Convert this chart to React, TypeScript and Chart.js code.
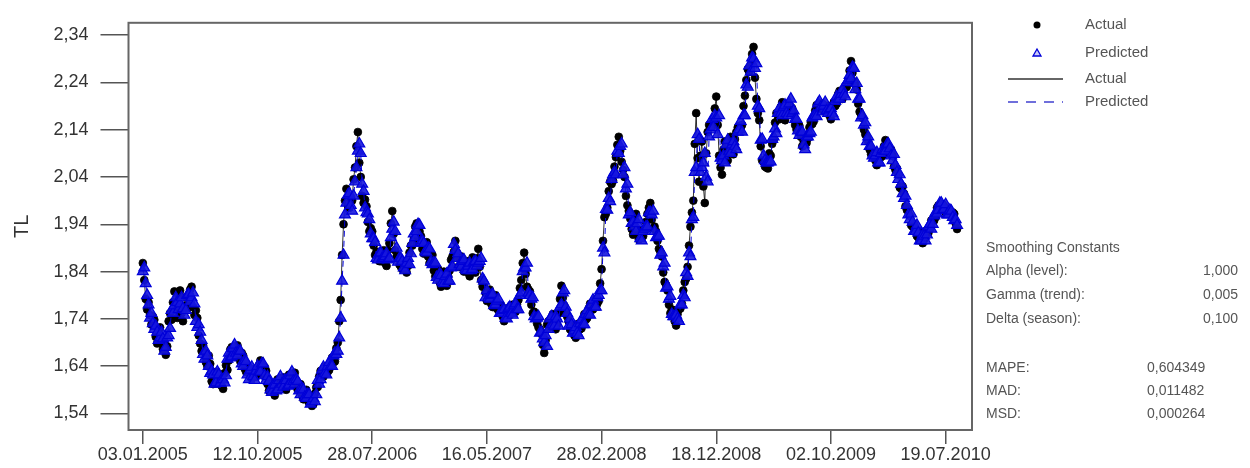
import React, { useEffect, useRef } from "react";
import { Chart, registerables } from "chart.js";

Chart.register(...registerables);

// observation index step between stored values (trading days);
// the "...Mid" arrays hold readings taken half a step after each main reading
const OBS_STEP = 5;
const MID_OFFSET = 2.5;

const X_TICK_INDEX = [0, 200, 400, 600, 800, 1000, 1200, 1400];
const X_TICK_LABELS = [
  "03.01.2005", "12.10.2005", "28.07.2006", "16.05.2007",
  "28.02.2008", "18.12.2008", "02.10.2009", "19.07.2010",
];
const Y_TICK_VALUES = [1.54, 1.64, 1.74, 1.84, 1.94, 2.04, 2.14, 2.24, 2.34];
const Y_TICK_LABELS = ["1,54", "1,64", "1,74", "1,84", "1,94", "2,04", "2,14", "2,24", "2,34"];

const actual = [
  1.858, 1.782, 1.775, 1.728, 1.738, 1.688, 1.722, 1.676, 1.664, 1.735,
  1.738, 1.798, 1.742, 1.800, 1.735, 1.786, 1.768, 1.808, 1.748, 1.742,
  1.688, 1.684, 1.648, 1.662, 1.608, 1.620, 1.603, 1.622, 1.592, 1.642,
  1.652, 1.680, 1.664, 1.684, 1.650, 1.662, 1.628, 1.632, 1.614, 1.634,
  1.622, 1.652, 1.622, 1.630, 1.588, 1.604, 1.578, 1.612, 1.598, 1.616,
  1.590, 1.622, 1.610, 1.626, 1.590, 1.602, 1.570, 1.590, 1.562, 1.556,
  1.582, 1.596, 1.630, 1.618, 1.640, 1.632, 1.658, 1.650, 1.690, 1.780,
  1.940, 2.015, 1.975, 1.990, 2.060, 2.135, 2.040, 1.985, 1.978, 1.925,
  1.925, 1.875, 1.878, 1.862, 1.885, 1.852, 1.900, 1.968, 1.885, 1.872,
  1.850, 1.862, 1.838, 1.880, 1.895, 1.935, 1.918, 1.915, 1.878, 1.902,
  1.858, 1.875, 1.830, 1.845, 1.808, 1.840, 1.810, 1.842, 1.872, 1.905,
  1.850, 1.872, 1.840, 1.862, 1.830, 1.870, 1.838, 1.888, 1.822, 1.808,
  1.778, 1.802, 1.765, 1.790, 1.758, 1.768, 1.735, 1.762, 1.748, 1.770,
  1.755, 1.780, 1.822, 1.880, 1.808, 1.798, 1.752, 1.748, 1.722, 1.708,
  1.668, 1.728, 1.722, 1.750, 1.718, 1.752, 1.810, 1.768, 1.745, 1.718,
  1.725, 1.700, 1.730, 1.720, 1.750, 1.742, 1.772, 1.760, 1.782, 1.778,
  1.845, 1.955, 1.975, 2.030, 2.032, 2.082, 2.125, 2.072, 2.040, 1.980,
  1.952, 1.918, 1.962, 1.908, 1.922, 1.925, 1.962, 1.985, 1.932, 1.925,
  1.888, 1.872, 1.818, 1.800, 1.752, 1.758, 1.726, 1.760, 1.772, 1.818,
  1.850, 1.935, 1.990, 2.175, 2.030, 2.115, 1.985, 2.135, 2.150, 2.158,
  2.210, 2.085, 2.045, 2.115, 2.075, 2.125, 2.088, 2.135, 2.148, 2.150,
  2.212, 2.268, 2.275, 2.315, 2.205, 2.160, 2.075, 2.062, 2.058, 2.085,
  2.118, 2.175, 2.162, 2.198, 2.160, 2.195, 2.188, 2.172, 2.140, 2.148,
  2.105, 2.118, 2.122, 2.155, 2.158, 2.192, 2.185, 2.195, 2.180, 2.190,
  2.162, 2.198, 2.195, 2.222, 2.205, 2.232, 2.238, 2.285, 2.242, 2.225,
  2.178, 2.165, 2.130, 2.115, 2.088, 2.095, 2.065, 2.088, 2.085, 2.118,
  2.090, 2.098, 2.062, 2.058, 2.018, 2.020, 1.978, 1.972, 1.938, 1.940,
  1.915, 1.925, 1.900, 1.925, 1.922, 1.948, 1.948, 1.975, 1.978, 1.982,
  1.965, 1.972, 1.958, 1.962, 1.930,
];

const actualMid = [
  1.822, 1.760, 1.748, 1.745, 1.702, 1.715, 1.690, 1.690, 1.682, 1.752,
  1.775, 1.758, 1.790, 1.752, 1.768, 1.762, 1.802, 1.765, 1.758, 1.705,
  1.672, 1.670, 1.640, 1.645, 1.602, 1.628, 1.608, 1.598, 1.625, 1.632,
  1.675, 1.662, 1.680, 1.658, 1.668, 1.635, 1.640, 1.618, 1.632, 1.618,
  1.642, 1.630, 1.638, 1.602, 1.605, 1.585, 1.600, 1.598, 1.615, 1.596,
  1.612, 1.606, 1.622, 1.598, 1.602, 1.578, 1.585, 1.568, 1.572, 1.560,
  1.595, 1.618, 1.620, 1.638, 1.628, 1.650, 1.648, 1.678, 1.735, 1.875,
  1.990, 1.980, 1.998, 2.035, 2.105, 2.070, 2.000, 1.992, 1.945, 1.932,
  1.895, 1.882, 1.862, 1.880, 1.858, 1.885, 1.942, 1.920, 1.872, 1.855,
  1.845, 1.858, 1.852, 1.895, 1.908, 1.942, 1.925, 1.888, 1.898, 1.872,
  1.872, 1.842, 1.845, 1.818, 1.832, 1.818, 1.830, 1.865, 1.882, 1.880,
  1.866, 1.848, 1.858, 1.838, 1.855, 1.848, 1.868, 1.850, 1.808, 1.795,
  1.795, 1.772, 1.782, 1.762, 1.768, 1.745, 1.755, 1.750, 1.765, 1.755,
  1.770, 1.805, 1.858, 1.835, 1.802, 1.770, 1.755, 1.730, 1.718, 1.685,
  1.695, 1.735, 1.735, 1.738, 1.728, 1.782, 1.785, 1.752, 1.735, 1.715,
  1.705, 1.720, 1.718, 1.740, 1.738, 1.762, 1.760, 1.778, 1.772, 1.815,
  1.905, 1.962, 2.010, 2.025, 2.062, 2.108, 2.095, 2.055, 2.000, 1.968,
  1.930, 1.948, 1.928, 1.920, 1.915, 1.945, 1.975, 1.950, 1.935, 1.905,
  1.882, 1.838, 1.812, 1.770, 1.760, 1.735, 1.750, 1.762, 1.800, 1.825,
  1.895, 1.965, 2.110, 2.080, 2.085, 2.020, 2.090, 2.150, 2.148, 2.185,
  2.150, 2.060, 2.098, 2.090, 2.110, 2.095, 2.120, 2.145, 2.142, 2.190,
  2.245, 2.262, 2.300, 2.250, 2.175, 2.105, 2.072, 2.060, 2.090, 2.110,
  2.155, 2.162, 2.188, 2.172, 2.185, 2.182, 2.185, 2.150, 2.152, 2.125,
  2.115, 2.112, 2.145, 2.152, 2.180, 2.185, 2.195, 2.180, 2.190, 2.170,
  2.185, 2.190, 2.215, 2.205, 2.225, 2.230, 2.265, 2.260, 2.235, 2.195,
  2.172, 2.140, 2.125, 2.098, 2.095, 2.075, 2.080, 2.082, 2.105, 2.095,
  2.092, 2.085, 2.055, 2.045, 2.015, 2.005, 1.970, 1.958, 1.935, 1.932,
  1.912, 1.915, 1.908, 1.928, 1.930, 1.950, 1.955, 1.980, 1.975, 1.978,
  1.968, 1.962, 1.965, 1.942,
];

const predicted = [
  1.840, 1.815, 1.770, 1.752, 1.718, 1.712, 1.700, 1.698, 1.680, 1.705,
  1.758, 1.768, 1.775, 1.772, 1.762, 1.758, 1.792, 1.785, 1.772, 1.722,
  1.712, 1.665, 1.672, 1.640, 1.630, 1.602, 1.628, 1.604, 1.612, 1.620,
  1.668, 1.660, 1.685, 1.662, 1.672, 1.640, 1.650, 1.612, 1.638, 1.610,
  1.640, 1.628, 1.645, 1.610, 1.608, 1.585, 1.600, 1.590, 1.618, 1.596,
  1.610, 1.600, 1.628, 1.602, 1.608, 1.580, 1.590, 1.572, 1.580, 1.566,
  1.565, 1.610, 1.612, 1.638, 1.622, 1.648, 1.640, 1.668, 1.672, 1.742,
  1.875, 1.985, 2.005, 1.968, 2.030, 2.095, 2.090, 2.010, 1.965, 1.950,
  1.910, 1.902, 1.865, 1.880, 1.868, 1.878, 1.868, 1.930, 1.925, 1.860,
  1.868, 1.848, 1.858, 1.855, 1.900, 1.912, 1.940, 1.902, 1.900, 1.880,
  1.888, 1.855, 1.858, 1.822, 1.832, 1.815, 1.835, 1.820, 1.850, 1.885,
  1.878, 1.850, 1.865, 1.842, 1.858, 1.845, 1.862, 1.858, 1.868, 1.820,
  1.800, 1.782, 1.792, 1.770, 1.782, 1.752, 1.760, 1.740, 1.765, 1.748,
  1.772, 1.760, 1.795, 1.848, 1.858, 1.790, 1.785, 1.740, 1.745, 1.712,
  1.690, 1.682, 1.740, 1.728, 1.745, 1.725, 1.770, 1.800, 1.752, 1.740,
  1.710, 1.722, 1.705, 1.738, 1.728, 1.758, 1.748, 1.780, 1.765, 1.790,
  1.800, 1.880, 1.970, 1.988, 2.045, 2.045, 2.090, 2.110, 2.060, 2.025,
  1.965, 1.945, 1.925, 1.950, 1.905, 1.930, 1.935, 1.965, 1.968, 1.912,
  1.915, 1.880, 1.858, 1.808, 1.788, 1.745, 1.748, 1.735, 1.770, 1.785,
  1.830, 1.872, 1.955, 2.060, 2.120, 2.060, 2.090, 2.030, 2.140, 2.145,
  2.165, 2.170, 2.075, 2.070, 2.118, 2.090, 2.115, 2.098, 2.140, 2.135,
  2.170, 2.230, 2.262, 2.290, 2.280, 2.185, 2.120, 2.075, 2.070, 2.072,
  2.125, 2.132, 2.185, 2.170, 2.192, 2.170, 2.205, 2.180, 2.162, 2.128,
  2.135, 2.098, 2.125, 2.135, 2.170, 2.168, 2.200, 2.178, 2.198, 2.175,
  2.185, 2.168, 2.210, 2.205, 2.225, 2.210, 2.245, 2.248, 2.270, 2.238,
  2.205, 2.170, 2.155, 2.125, 2.105, 2.080, 2.092, 2.070, 2.098, 2.095,
  2.110, 2.085, 2.088, 2.050, 2.045, 2.005, 2.000, 1.960, 1.962, 1.925,
  1.938, 1.905, 1.918, 1.905, 1.935, 1.930, 1.958, 1.962, 1.985, 1.970,
  1.982, 1.960, 1.968, 1.948, 1.938,
];

const predictedMid = [
  1.848, 1.790, 1.742, 1.730, 1.725, 1.695, 1.712, 1.672, 1.700, 1.720,
  1.752, 1.785, 1.760, 1.785, 1.748, 1.790, 1.776, 1.795, 1.735, 1.728,
  1.695, 1.655, 1.662, 1.625, 1.622, 1.605, 1.622, 1.612, 1.605, 1.655,
  1.658, 1.678, 1.668, 1.672, 1.645, 1.652, 1.622, 1.632, 1.618, 1.630,
  1.628, 1.645, 1.620, 1.618, 1.590, 1.600, 1.588, 1.610, 1.602, 1.610,
  1.598, 1.620, 1.608, 1.612, 1.588, 1.592, 1.575, 1.580, 1.560, 1.572,
  1.580, 1.602, 1.632, 1.625, 1.640, 1.640, 1.662, 1.665, 1.700, 1.820,
  1.960, 2.002, 1.980, 2.000, 2.060, 2.110, 2.025, 1.975, 1.962, 1.920,
  1.910, 1.868, 1.878, 1.868, 1.872, 1.865, 1.912, 1.945, 1.890, 1.868,
  1.862, 1.842, 1.868, 1.878, 1.920, 1.925, 1.938, 1.905, 1.882, 1.890,
  1.860, 1.858, 1.828, 1.835, 1.818, 1.830, 1.820, 1.848, 1.898, 1.868,
  1.855, 1.862, 1.845, 1.852, 1.842, 1.860, 1.852, 1.862, 1.825, 1.785,
  1.785, 1.790, 1.768, 1.778, 1.752, 1.758, 1.742, 1.762, 1.752, 1.768,
  1.760, 1.790, 1.840, 1.848, 1.795, 1.782, 1.745, 1.742, 1.710, 1.698,
  1.705, 1.718, 1.745, 1.725, 1.740, 1.765, 1.795, 1.765, 1.725, 1.728,
  1.715, 1.710, 1.730, 1.728, 1.750, 1.750, 1.770, 1.765, 1.785, 1.800,
  1.890, 1.972, 1.995, 2.035, 2.050, 2.095, 2.105, 2.045, 2.015, 1.960,
  1.942, 1.935, 1.942, 1.910, 1.925, 1.935, 1.965, 1.960, 1.925, 1.915,
  1.875, 1.850, 1.805, 1.782, 1.750, 1.745, 1.740, 1.770, 1.790, 1.838,
  1.880, 1.950, 2.050, 2.130, 2.050, 2.070, 2.040, 2.125, 2.162, 2.170,
  2.130, 2.080, 2.085, 2.108, 2.095, 2.108, 2.105, 2.135, 2.158, 2.170,
  2.235, 2.275, 2.292, 2.270, 2.190, 2.118, 2.085, 2.070, 2.072, 2.120,
  2.142, 2.175, 2.175, 2.188, 2.175, 2.195, 2.175, 2.162, 2.138, 2.135,
  2.108, 2.125, 2.132, 2.165, 2.170, 2.195, 2.188, 2.190, 2.180, 2.182,
  2.175, 2.200, 2.205, 2.215, 2.215, 2.240, 2.255, 2.272, 2.225, 2.205,
  2.165, 2.150, 2.115, 2.105, 2.085, 2.085, 2.070, 2.090, 2.095, 2.108,
  2.100, 2.075, 2.065, 2.035, 2.025, 1.995, 1.980, 1.950, 1.945, 1.925,
  1.922, 1.905, 1.915, 1.918, 1.940, 1.940, 1.965, 1.970, 1.985, 1.972,
  1.960, 1.970, 1.955, 1.950,
];

const SMOOTHING_LABELS = ["Alpha (level):", "Gamma (trend):", "Delta (season):"];
const SMOOTHING_VALUES = ["1,000", "0,005", "0,100"];
const ACCURACY_LABELS = ["MAPE:", "MAD:", "MSD:"];
const ACCURACY_VALUES = ["0,604349", "0,011482", "0,000264"];

const FONT = "'Liberation Sans', Arial, sans-serif";
const BLUE = "#0000d8";

function mergeSeries(main: number[], mid: number[]) {
  const pts: { x: number; y: number }[] = [];
  main.forEach((v, i) => {
    pts.push({ x: i * OBS_STEP, y: v });
    if (i < mid.length) pts.push({ x: i * OBS_STEP + MID_OFFSET, y: mid[i] });
  });
  return pts;
}

const framePlugin = {
  id: "frame",
  afterDraw(chart: any) {
    const { ctx, chartArea } = chart;
    ctx.save();
    ctx.strokeStyle = "#666";
    ctx.lineWidth = 2;
    ctx.strokeRect(chartArea.left, chartArea.top, chartArea.right - chartArea.left, chartArea.bottom - chartArea.top);
    ctx.restore();
  },
};

export default function App() {
  const ref = useRef<HTMLCanvasElement>(null);

  useEffect(() => {
    if (!ref.current) return;
    const chart = new Chart(ref.current, {
      type: "scatter",
      data: {
        datasets: [
          {
            label: "Predicted",
            data: mergeSeries(predicted, predictedMid),
            showLine: true,
            borderColor: BLUE,
            borderWidth: 1,
            borderDash: [6, 4],
            pointStyle: "triangle",
            pointRadius: 6.3,
            pointBorderColor: BLUE,
            pointBorderWidth: 1.2,
            pointBackgroundColor: "rgba(22,22,222,0.9)",
          },
          {
            label: "Actual",
            data: mergeSeries(actual, actualMid),
            showLine: true,
            borderColor: "#000",
            borderWidth: 0.8,
            pointStyle: "circle",
            pointRadius: 3.9,
            pointBorderColor: "#000",
            pointBackgroundColor: "#000",
          },
        ],
      },
      options: {
        animation: false,
        responsive: false,
        layout: { padding: { left: 0, right: 278, top: 11, bottom: 0 } },
        plugins: { legend: { display: false }, tooltip: { enabled: false } },
        scales: {
          x: {
            type: "linear",
            min: -25,
            max: 1446,
            afterBuildTicks: (s: any) => {
              s.ticks = X_TICK_INDEX.map((v) => ({ value: v }));
            },
            afterFit: (s: any) => {
              s.height = 38;
            },
            ticks: {
              autoSkip: false,
              maxRotation: 0,
              padding: 0,
              color: "#333",
              font: { family: FONT, size: 18 },
              callback: (_v: any, i: number) => X_TICK_LABELS[i],
            },
            grid: { drawOnChartArea: false, drawTicks: true, tickLength: 14, color: "#555", lineWidth: 1.5 },
            border: { display: false },
          },
          y: {
            min: 1.505,
            max: 2.366,
            afterBuildTicks: (s: any) => {
              s.ticks = Y_TICK_VALUES.map((v) => ({ value: v }));
            },
            afterFit: (s: any) => {
              s.width = 128.5;
            },
            ticks: {
              padding: 12,
              color: "#333",
              font: { family: FONT, size: 18 },
              callback: (_v: any, i: number) => Y_TICK_LABELS[i],
            },
            grid: { drawOnChartArea: false, drawTicks: true, tickLength: 28, color: "#555", lineWidth: 1.5 },
            border: { display: false },
            title: {
              display: true,
              text: "TL",
              color: "#333",
              font: { family: FONT, size: 20 },
              padding: { top: 10, bottom: 0 },
            },
          },
        },
      },
      plugins: [framePlugin],
    });
    return () => chart.destroy();
  }, []);

  const textStyle: React.CSSProperties = {
    position: "absolute",
    fontFamily: FONT,
    fontSize: 15,
    color: "#555",
    lineHeight: "18px",
    whiteSpace: "nowrap",
  };

  const legendRows = [
    { y: 24, text: "Actual", kind: "dot" },
    { y: 52, text: "Predicted", kind: "tri" },
    { y: 78, text: "Actual", kind: "line" },
    { y: 101, text: "Predicted", kind: "dash" },
  ];

  return (
    <div style={{ position: "fixed", left: 0, top: 0, width: 1250, height: 468, background: "#fff" }}>
      <canvas ref={ref} width={1250} height={468} style={{ position: "absolute", left: 0, top: 0 }} />
      <svg width={1250} height={468} style={{ position: "absolute", left: 0, top: 0, pointerEvents: "none" }}>
        {legendRows.map((r, i) => {
          if (r.kind === "dot") return <circle key={i} cx={1037} cy={r.y + 1} r={3.5} fill="#000" />;
          if (r.kind === "tri")
            return (
              <polygon key={i} points={`1037,${r.y - 3} 1033,${r.y + 4} 1041,${r.y + 4}`} fill="rgba(120,120,240,0.4)" stroke={BLUE} strokeWidth={1.3} />
            );
          if (r.kind === "line") return <line key={i} x1={1008} x2={1063} y1={r.y + 1} y2={r.y + 1} stroke="#333" strokeWidth={1.3} />;
          return <line key={i} x1={1008} x2={1063} y1={r.y + 1} y2={r.y + 1} stroke="#4040d0" strokeWidth={1.3} strokeDasharray="10,8" />;
        })}
      </svg>
      {legendRows.map((r, i) => (
        <div key={"l" + i} style={{ ...textStyle, left: 1085, top: r.y - 9 }}>{r.text}</div>
      ))}
      <div style={{ ...textStyle, left: 986, top: 238, fontSize: 14 }}>Smoothing Constants</div>
      {SMOOTHING_LABELS.map((t, i) => (
        <div key={"s" + i} style={{ ...textStyle, left: 986, top: 261 + i * 24, fontSize: 14 }}>{t}</div>
      ))}
      {SMOOTHING_VALUES.map((t, i) => (
        <div key={"sv" + i} style={{ ...textStyle, right: 1250 - 1238, top: 261 + i * 24, fontSize: 14, textAlign: "right" }}>{t}</div>
      ))}
      {ACCURACY_LABELS.map((t, i) => (
        <div key={"a" + i} style={{ ...textStyle, left: 986, top: 358 + i * 23, fontSize: 14 }}>{t}</div>
      ))}
      {ACCURACY_VALUES.map((t, i) => (
        <div key={"av" + i} style={{ ...textStyle, left: 1147, top: 358 + i * 23, fontSize: 14 }}>{t}</div>
      ))}
    </div>
  );
}
